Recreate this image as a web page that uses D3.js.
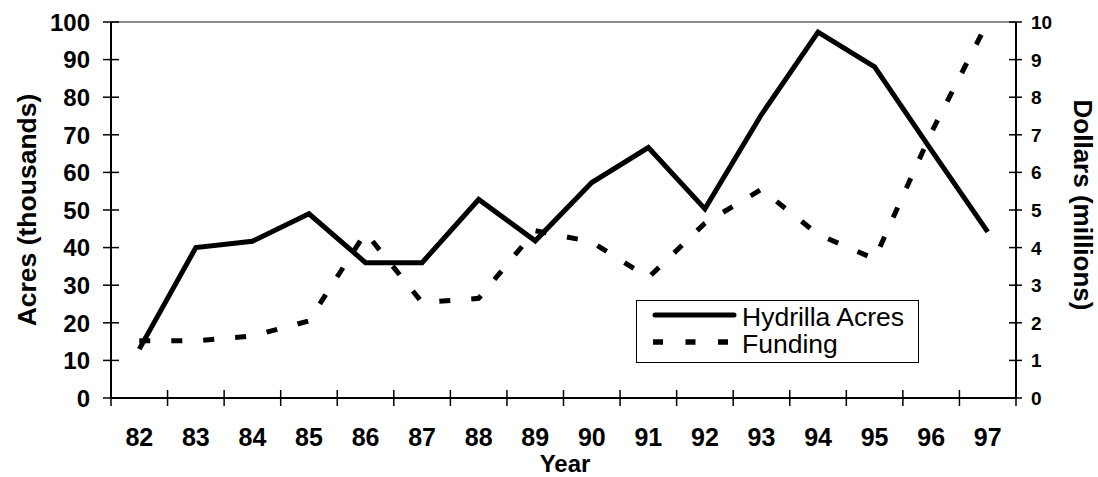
<!DOCTYPE html>
<html>
<head>
<meta charset="utf-8">
<script src="https://cdn.jsdelivr.net/npm/d3@7"></script>
<style>
  html, body { margin: 0; padding: 0; background: #fff; }
  svg { display: block; }
  text { font-family: "Liberation Sans", Arial, sans-serif; fill: #000; }
</style>
</head>
<body>
<svg id="chart" width="1098" height="477"></svg>
<script>
// Hydrilla coverage (thousands of acres) and control funding (millions of dollars), 1982-1997
const years = ["82","83","84","85","86","87","88","89","90","91","92","93","94","95","96","97"];
const hydrillaAcres = [13, 40, 41.7, 49, 36, 36, 52.8, 41.8, 57.3, 66.6, 50.3, 75.4, 97.3, 88.1, 66, 44.2];
const funding = [1.52, 1.52, 1.65, 2.05, 4.4, 2.54, 2.65, 4.45, 4.15, 3.2, 4.65, 5.55, 4.35, 3.7, 7.05, 10];
const acreTicks = [0, 10, 20, 30, 40, 50, 60, 70, 80, 90, 100];
const dollarTicks = [0, 1, 2, 3, 4, 5, 6, 7, 8, 9, 10];
const seriesNames = ["Hydrilla Acres", "Funding"];

const svg = d3.select("#chart");
const plotLeft = 111, plotRight = 1016, plotTop = 22, plotBottom = 398;

const x = d3.scaleBand().domain(years).range([plotLeft, plotRight]).paddingInner(0).paddingOuter(0);
const yL = d3.scaleLinear().domain([0, 100]).range([plotBottom, plotTop]);
const yR = d3.scaleLinear().domain([0, 10]).range([plotBottom, plotTop]);
const cx = d => x(d) + x.bandwidth() / 2;

// plot frame: grey top edge, black axes on the other sides
svg.append("line").attr("x1", plotLeft).attr("x2", plotRight).attr("y1", plotTop).attr("y2", plotTop)
  .attr("stroke", "#8c8c8c").attr("stroke-width", 2);

const g = svg.append("g");

// left axis
g.append("line").attr("x1", plotLeft).attr("x2", plotLeft).attr("y1", plotTop).attr("y2", plotBottom)
  .attr("stroke", "#000").attr("stroke-width", 2);
g.selectAll(".tl").data(acreTicks).enter().append("line")
  .attr("x1", plotLeft - 8).attr("x2", plotLeft + 8)
  .attr("y1", d => yL(d)).attr("y2", d => yL(d))
  .attr("stroke", "#000").attr("stroke-width", 1.5);
g.selectAll(".ll").data(acreTicks).enter().append("text")
  .attr("x", 90).attr("y", d => yL(d) + 8.7)
  .attr("text-anchor", "end").attr("font-size", 24).attr("font-weight", "bold")
  .text(d => d);

// right axis
g.append("line").attr("x1", plotRight).attr("x2", plotRight).attr("y1", plotTop).attr("y2", plotBottom)
  .attr("stroke", "#000").attr("stroke-width", 2);
g.selectAll(".tr").data(dollarTicks).enter().append("line")
  .attr("x1", plotRight - 7).attr("x2", plotRight + 6)
  .attr("y1", d => yR(d)).attr("y2", d => yR(d))
  .attr("stroke", "#000").attr("stroke-width", 1.5);
g.selectAll(".lr").data(dollarTicks).enter().append("text")
  .attr("x", 1031).attr("y", d => yR(d) + 7)
  .attr("text-anchor", "start").attr("font-size", 19).attr("font-weight", "bold")
  .text(d => d);

// bottom axis with ticks on category boundaries
g.append("line").attr("x1", plotLeft).attr("x2", plotRight).attr("y1", plotBottom).attr("y2", plotBottom)
  .attr("stroke", "#000").attr("stroke-width", 2);
const edges = years.map(d => x(d)).concat([x.range()[1]]);
g.selectAll(".tb").data(edges).enter().append("line")
  .attr("x1", d => d).attr("x2", d => d)
  .attr("y1", plotBottom - 8).attr("y2", plotBottom + 8)
  .attr("stroke", "#000").attr("stroke-width", 1.5);
g.selectAll(".lb").data(years).enter().append("text")
  .attr("x", d => cx(d)).attr("y", 446)
  .attr("text-anchor", "middle").attr("font-size", 25).attr("font-weight", "bold")
  .text(d => d);

// axis titles
svg.append("text").attr("x", 565).attr("y", 472).attr("text-anchor", "middle")
  .attr("font-size", 24).attr("font-weight", "bold").text("Year");
svg.append("text").attr("transform", "translate(36,210) rotate(-90)")
  .attr("text-anchor", "middle").attr("font-size", 26.5).attr("font-weight", "bold")
  .text("Acres (thousands)");
svg.append("text").attr("transform", "translate(1074,205) rotate(90)")
  .attr("text-anchor", "middle").attr("font-size", 26).attr("font-weight", "bold")
  .text("Dollars (millions)");

// series lines
const lineL = d3.line().x((d, i) => cx(years[i])).y(d => yL(d));
const lineR = d3.line().x((d, i) => cx(years[i])).y(d => yR(d));

svg.append("path").datum(funding).attr("d", lineR)
  .attr("fill", "none").attr("stroke", "#000").attr("stroke-width", 5)
  .attr("stroke-dasharray", "11,21").attr("stroke-linejoin", "miter");
svg.append("path").datum(hydrillaAcres).attr("d", lineL)
  .attr("fill", "none").attr("stroke", "#000").attr("stroke-width", 5)
  .attr("stroke-linejoin", "miter");

// legend
const lg = svg.append("g");
lg.append("rect").attr("x", 636.5).attr("y", 300.5).attr("width", 282).attr("height", 62)
  .attr("fill", "#fff").attr("stroke", "#000").attr("stroke-width", 1);
lg.append("line").attr("x1", 655).attr("x2", 734).attr("y1", 315).attr("y2", 315)
  .attr("stroke", "#000").attr("stroke-width", 5).attr("stroke-linecap", "round");
lg.append("line").attr("x1", 653).attr("x2", 736).attr("y1", 342).attr("y2", 342)
  .attr("stroke", "#000").attr("stroke-width", 5.5).attr("stroke-dasharray", "10,22.5");
lg.selectAll(".lt").data(seriesNames).enter().append("text")
  .attr("x", 742).attr("y", (d, i) => 326 + i * 27.3)
  .attr("font-size", 26.5).text(d => d);
</script>
</body>
</html>
